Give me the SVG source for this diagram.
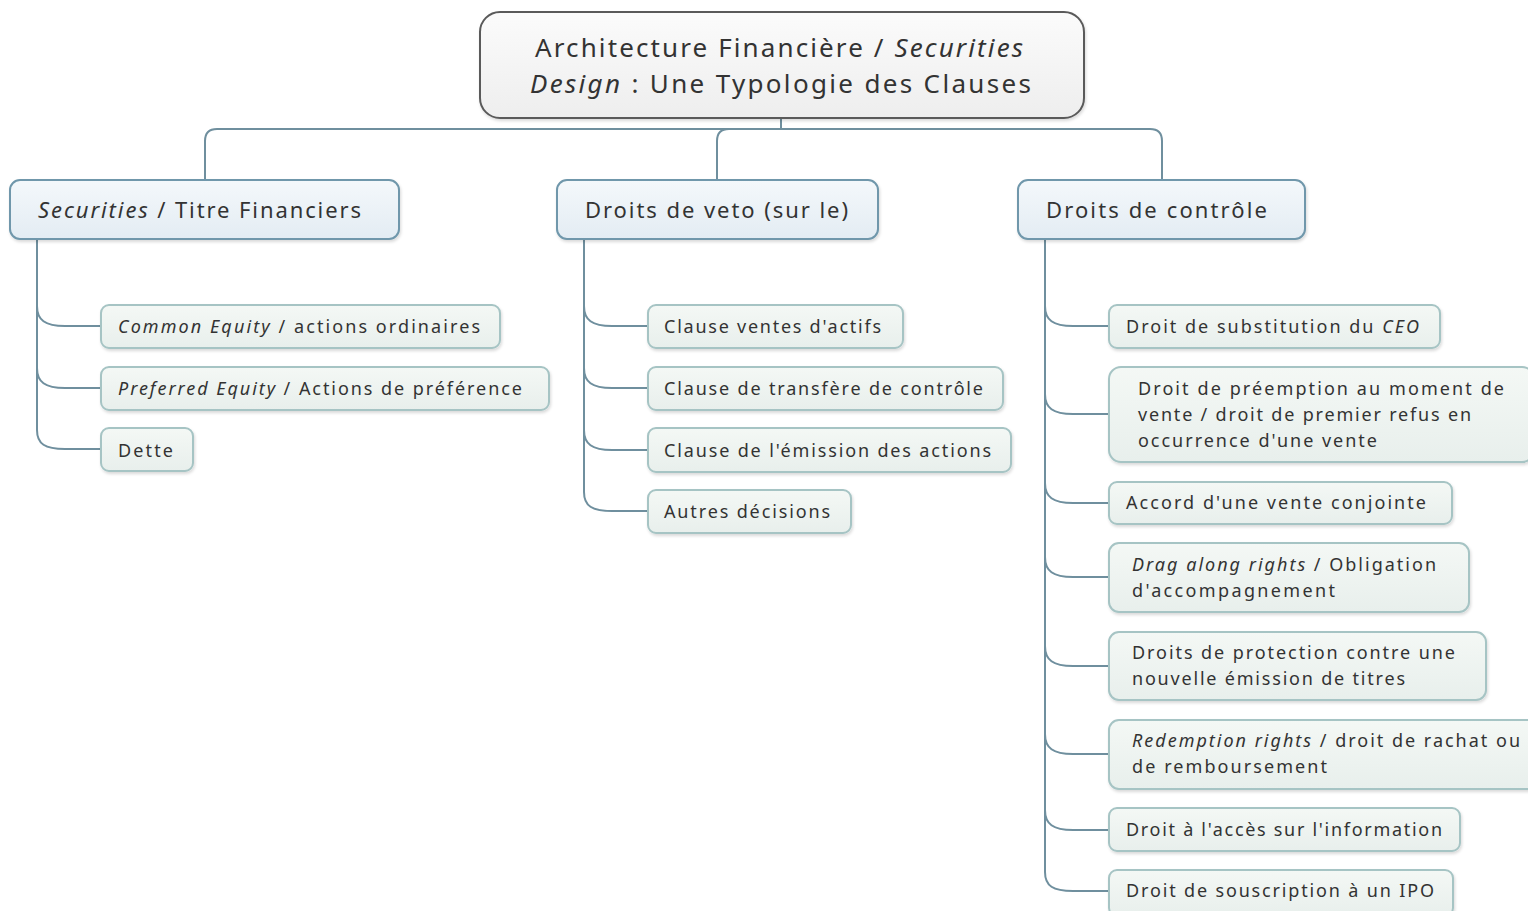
<svg xmlns="http://www.w3.org/2000/svg" width="1528" height="911" viewBox="0 0 1528 911">
<defs>
<linearGradient id="gRoot" x1="0" y1="0" x2="0" y2="1"><stop offset="0" stop-color="#fbfbfb"/><stop offset="1" stop-color="#eeeeee"/></linearGradient>
<linearGradient id="gL1" x1="0" y1="0" x2="0" y2="1"><stop offset="0" stop-color="#f4f8fb"/><stop offset="1" stop-color="#e3ecf3"/></linearGradient>
<linearGradient id="gL2" x1="0" y1="0" x2="0" y2="1"><stop offset="0" stop-color="#f4f8f5"/><stop offset="1" stop-color="#e8efec"/></linearGradient>
<filter id="sh" x="-5%" y="-10%" width="110%" height="130%"><feDropShadow dx="1" dy="2" stdDeviation="1.5" flood-color="#000" flood-opacity="0.15"/></filter>
</defs>
<style>
text{font-family:"Noto Sans","Open Sans","Liberation Sans",sans-serif;fill:#333;}
.root{fill:url(#gRoot);stroke:#5a5a5a;stroke-width:2;filter:url(#sh);}
.l1{fill:url(#gL1);stroke:#6f97ab;stroke-width:2;filter:url(#sh);}
.l2{fill:url(#gL2);stroke:#a6c4c4;stroke-width:2;filter:url(#sh);}
.t0{font-size:26px;}
.t1{font-size:22px;}
.t2{font-size:18px;}
.conn{fill:none;stroke:#6f8f9e;stroke-width:2;}
.i{font-style:italic;}
</style>
<rect width="1528" height="911" fill="#ffffff"/>
<g id="connectors">
<path class="conn" d="M781,118 L781,129"/>
<path class="conn" d="M205,180 L205,141 Q205,129 217,129 L1150,129 Q1162,129 1162,141 L1162,180"/>
<path class="conn" d="M717,180 L717,141 Q717,129 729,129"/>
<path class="conn" d="M37,239 L37,430 C37,444 45,449 65,449 L101,449"/>
<path class="conn" d="M37,306 C37,320 45,326 65,326 L101,326"/>
<path class="conn" d="M37,368 C37,382 45,388 65,388 L101,388"/>
<path class="conn" d="M584,239 L584,492 C584,506 592,511 612,511 L648,511"/>
<path class="conn" d="M584,306 C584,320 592,326 612,326 L648,326"/>
<path class="conn" d="M584,368 C584,382 592,388 612,388 L648,388"/>
<path class="conn" d="M584,430 C584,444 592,450 612,450 L648,450"/>
<path class="conn" d="M1045,239 L1045,872 C1045,886 1053,891 1073,891 L1109,891"/>
<path class="conn" d="M1045,306 C1045,320 1053,326 1073,326 L1109,326"/>
<path class="conn" d="M1045,394 C1045,408 1053,414 1073,414 L1109,414"/>
<path class="conn" d="M1045,483 C1045,497 1053,503 1073,503 L1109,503"/>
<path class="conn" d="M1045,557 C1045,571 1053,577 1073,577 L1109,577"/>
<path class="conn" d="M1045,646 C1045,660 1053,666 1073,666 L1109,666"/>
<path class="conn" d="M1045,734 C1045,748 1053,754 1073,754 L1109,754"/>
<path class="conn" d="M1045,810 C1045,824 1053,830 1073,830 L1109,830"/>
</g>
<g id="root">
<rect class="root" x="480" y="12" width="604" height="106" rx="20"/>
<text class="t0" x="535" y="57" textLength="488" lengthAdjust="spacing">Architecture Financière / <tspan class="i">Securities</tspan></text>
<text class="t0" x="530" y="93" textLength="501" lengthAdjust="spacing"><tspan class="i">Design</tspan> : Une Typologie des Clauses</text>
</g>
<g id="n-securities">
<rect class="l1" x="10" y="180" width="389" height="59" rx="10"/>
<text class="t1" x="38" y="218" textLength="323" lengthAdjust="spacing"><tspan class="i">Securities</tspan> / Titre Financiers</text>
</g>
<g id="n-veto">
<rect class="l1" x="557" y="180" width="321" height="59" rx="10"/>
<text class="t1" x="585" y="218" textLength="263" lengthAdjust="spacing">Droits de veto (sur le)</text>
</g>
<g id="n-controle">
<rect class="l1" x="1018" y="180" width="287" height="59" rx="10"/>
<text class="t1" x="1046" y="218" textLength="221" lengthAdjust="spacing">Droits de contrôle</text>
</g>
<g id="n-common">
<rect class="l2" x="101" y="305" width="399" height="43" rx="8"/>
<text class="t2" x="118" y="333" textLength="362" lengthAdjust="spacing"><tspan class="i">Common Equity</tspan> / actions ordinaires</text>
</g>
<g id="n-preferred">
<rect class="l2" x="101" y="367" width="448" height="43" rx="8"/>
<text class="t2" x="118" y="395" textLength="404" lengthAdjust="spacing"><tspan class="i">Preferred Equity</tspan> / Actions de préférence</text>
</g>
<g id="n-dette">
<rect class="l2" x="101" y="428" width="92" height="43" rx="8"/>
<text class="t2" x="118" y="457" textLength="55" lengthAdjust="spacing">Dette</text>
</g>
<g id="n-ventes">
<rect class="l2" x="648" y="305" width="255" height="43" rx="8"/>
<text class="t2" x="664" y="333" textLength="217" lengthAdjust="spacing">Clause ventes d'actifs</text>
</g>
<g id="n-transfere">
<rect class="l2" x="648" y="367" width="355" height="43" rx="8"/>
<text class="t2" x="664" y="395" textLength="319" lengthAdjust="spacing">Clause de transfère de contrôle</text>
</g>
<g id="n-emission">
<rect class="l2" x="648" y="428" width="363" height="44" rx="8"/>
<text class="t2" x="664" y="457" textLength="327" lengthAdjust="spacing">Clause de l'émission des actions</text>
</g>
<g id="n-autres">
<rect class="l2" x="648" y="490" width="203" height="43" rx="8"/>
<text class="t2" x="664" y="518" textLength="166" lengthAdjust="spacing">Autres décisions</text>
</g>
<g id="n-ceo">
<rect class="l2" x="1109" y="305" width="331" height="43" rx="8"/>
<text class="t2" x="1126" y="333" textLength="293" lengthAdjust="spacing">Droit de substitution du <tspan class="i">CEO</tspan></text>
</g>
<g id="n-preemption">
<rect class="l2" x="1109" y="367" width="425" height="95" rx="12"/>
<text class="t2" x="1138" y="395" textLength="366" lengthAdjust="spacing">Droit de préemption au moment de</text>
<text class="t2" x="1138" y="421" textLength="333" lengthAdjust="spacing">vente / droit de premier refus en</text>
<text class="t2" x="1138" y="447" textLength="239" lengthAdjust="spacing">occurrence d'une vente</text>
</g>
<g id="n-accord">
<rect class="l2" x="1109" y="482" width="343" height="42" rx="8"/>
<text class="t2" x="1126" y="509" textLength="300" lengthAdjust="spacing">Accord d'une vente conjointe</text>
</g>
<g id="n-drag">
<rect class="l2" x="1109" y="543" width="360" height="69" rx="10"/>
<text class="t2" x="1132" y="571" textLength="304" lengthAdjust="spacing"><tspan class="i">Drag along rights</tspan> / Obligation</text>
<text class="t2" x="1132" y="597" textLength="203" lengthAdjust="spacing">d'accompagnement</text>
</g>
<g id="n-protection">
<rect class="l2" x="1109" y="632" width="377" height="68" rx="10"/>
<text class="t2" x="1132" y="659" textLength="323" lengthAdjust="spacing">Droits de protection contre une</text>
<text class="t2" x="1132" y="685" textLength="273" lengthAdjust="spacing">nouvelle émission de titres</text>
</g>
<g id="n-redemption">
<rect class="l2" x="1109" y="720" width="430" height="69" rx="10"/>
<text class="t2" x="1132" y="747" textLength="388" lengthAdjust="spacing"><tspan class="i">Redemption rights</tspan> / droit de rachat ou</text>
<text class="t2" x="1132" y="773" textLength="195" lengthAdjust="spacing">de remboursement</text>
</g>
<g id="n-information">
<rect class="l2" x="1109" y="808" width="351" height="43" rx="8"/>
<text class="t2" x="1126" y="836" textLength="316" lengthAdjust="spacing">Droit à l'accès sur l'information</text>
</g>
<g id="n-ipo">
<rect class="l2" x="1109" y="870" width="344" height="46" rx="8"/>
<text class="t2" x="1126" y="897" textLength="308" lengthAdjust="spacing">Droit de souscription à un IPO</text>
</g>
</svg>
